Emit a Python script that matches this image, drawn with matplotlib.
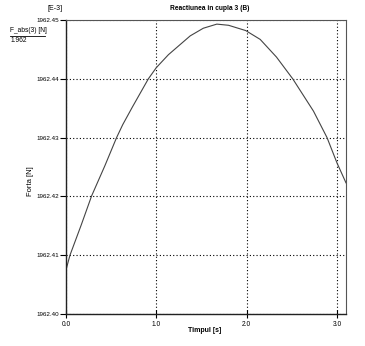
import matplotlib
matplotlib.use("Agg")
import matplotlib.pyplot as plt

plt.rcParams["font.family"] = ["Liberation Sans", "DejaVu Sans"]

# time [s] and reaction force [N] in joint 3 (B)
timp = [0.0, 0.044, 0.17, 0.284, 0.43, 0.56, 0.628, 0.735, 0.912, 1.0,
        1.134, 1.375, 1.52, 1.67, 1.80, 1.99, 2.15, 2.33, 2.51, 2.74,
        2.89, 3.0, 3.1]
forta = [1962.4075, 1962.41, 1962.4152, 1962.4201, 1962.4252, 1962.43,
         1962.4322, 1962.4352, 1962.44, 1962.4419, 1962.4441, 1962.4473,
         1962.4486, 1962.4493, 1962.4491, 1962.4482, 1962.4467, 1962.4437,
         1962.44, 1962.4345, 1962.43, 1962.4257, 1962.4223]

xticks = [0.0, 1.0, 2.0, 3.0]
yticks = [1962.40, 1962.41, 1962.42, 1962.43, 1962.44, 1962.45]

W, H = 365, 346
fig = plt.figure(figsize=(W / 100, H / 100), dpi=100)
ax = fig.add_axes([66 / W, 1 - 314 / H, 280 / W, 294 / H])

ax.plot(timp, forta, color="#444444", lw=0.8)
ax.set_xlim(0.0, 3.1)
ax.set_ylim(1962.40, 1962.45)
ax.set_xticks(xticks)
ax.set_xticklabels([f"{v:.1f}" for v in xticks])
ax.set_yticks(yticks)
ax.set_yticklabels([f"{v:.2f}" for v in yticks])

ax.grid(True, color="black", linestyle=(0, (1, 2)), lw=0.8)
ax.tick_params(axis="y", direction="out", length=4, width=0.8, labelsize=4.5, pad=1)
ax.tick_params(axis="x", direction="inout", length=6, width=0.8, labelsize=4.8, pad=2)

for side in ("left", "bottom"):
    ax.spines[side].set_color("#222222")
    ax.spines[side].set_linewidth(1.0)
for side in ("top", "right"):
    ax.spines[side].set_color("#555555")
    ax.spines[side].set_linewidth(0.8)

fig.text(210 / W, 1 - 9 / H, "Reactiunea in cupla 3 (B)", ha="center", va="center",
         fontsize=4.8, fontweight="bold")
fig.text(55 / W, 1 - 8 / H, "[E-3]", ha="center", va="center", fontsize=5)
fig.text(10 / W, 1 - 30 / H, "F_abs(3) [N]", ha="left", va="center", fontsize=4.8)
fig.add_artist(plt.Line2D([10 / W, 45 / W], [1 - 35.5 / H, 1 - 35.5 / H], color="black", lw=0.6))
fig.text(11 / W, 1 - 40 / H, "1.962", ha="left", va="center", fontsize=4.8)
fig.text(31 / W, 1 - 181 / H, "Forta [N]", ha="center", va="center", rotation=90, fontsize=5.5)
fig.text(205 / W, 1 - 330 / H, "Timpul [s]", ha="center", va="center", fontsize=5,
         fontweight="bold")

fig.savefig("out.png", dpi=100)
